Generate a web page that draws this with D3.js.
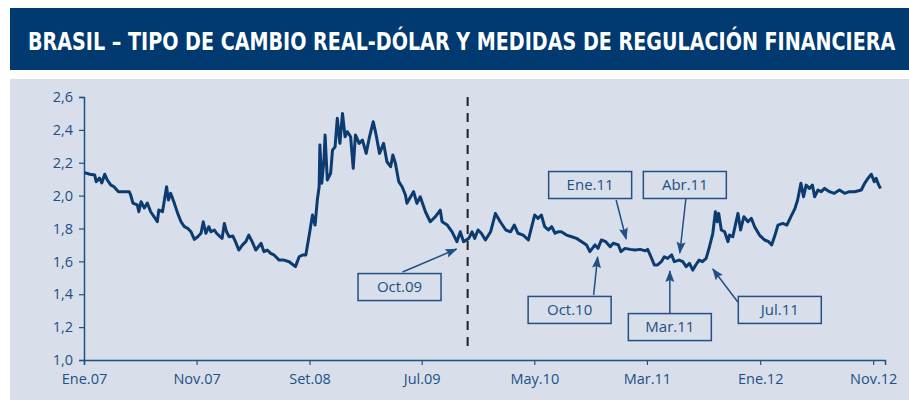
<!DOCTYPE html>
<html>
<head>
<meta charset="utf-8">
<script src="https://cdn.jsdelivr.net/npm/d3@7"></script>
<style>
  body { margin: 0; background: #fff; }
  svg { display: block; }
</style>
</head>
<body>
<div id="chart"></div>
<script>
// BRL per USD
const dates = [
  "2007-01-02","2007-01-17","2007-01-30","2007-02-03","2007-02-12","2007-02-18","2007-02-26","2007-03-05","2007-03-14","2007-03-23",
  "2007-04-04","2007-04-19","2007-05-03","2007-05-07","2007-05-13","2007-05-25","2007-05-29","2007-06-04","2007-06-13","2007-06-21",
  "2007-06-30","2007-07-09","2007-07-18","2007-07-22","2007-08-01","2007-08-12","2007-08-17","2007-08-23","2007-09-02","2007-09-11",
  "2007-09-20","2007-09-29","2007-10-08","2007-10-17","2007-10-26","2007-11-04","2007-11-13","2007-11-19","2007-11-26","2007-12-04",
  "2007-12-10","2007-12-19","2007-12-25","2008-01-02","2008-01-09","2008-01-15","2008-01-21","2008-01-28","2008-02-07","2008-02-14",
  "2008-02-23","2008-03-04","2008-03-13","2008-03-21","2008-03-30","2008-04-09","2008-04-23","2008-05-01","2008-05-10","2008-05-19",
  "2008-05-28","2008-06-11","2008-06-24","2008-07-08","2008-07-25","2008-08-04","2008-08-13","2008-08-22","2008-09-01","2008-09-09",
  "2008-09-16","2008-09-22","2008-09-27","2008-09-29","2008-10-04","2008-10-10","2008-10-13","2008-10-19","2008-10-28","2008-11-02",
  "2008-11-09","2008-11-15","2008-11-22","2008-11-29","2008-12-06","2008-12-12","2008-12-21","2008-12-28","2009-01-03","2009-01-13",
  "2009-01-22","2009-02-01","2009-02-10","2009-02-20","2009-02-27","2009-03-09","2009-03-20","2009-03-29","2009-04-08","2009-04-14",
  "2009-04-21","2009-04-30","2009-05-09","2009-05-18","2009-05-22","2009-06-01","2009-06-09","2009-06-18","2009-06-27","2009-07-11",
  "2009-07-24","2009-08-07","2009-08-20","2009-08-25","2009-09-08","2009-09-21","2009-10-04","2009-10-13","2009-10-22","2009-11-05",
  "2009-11-14","2009-11-21","2009-11-30","2009-12-09","2009-12-20","2010-01-03","2010-01-16","2010-01-29","2010-02-13","2010-02-26",
  "2010-03-08","2010-03-18","2010-04-01","2010-04-15","2010-04-24","2010-05-02","2010-05-11","2010-05-20","2010-05-29","2010-06-08",
  "2010-06-17","2010-06-26","2010-07-04","2010-07-13","2010-07-27","2010-08-10","2010-08-23","2010-09-06","2010-09-19","2010-09-28",
  "2010-10-12","2010-10-20","2010-10-29","2010-11-10","2010-11-22","2010-11-30","2010-12-14","2010-12-21","2011-01-01","2011-01-15",
  "2011-01-28","2011-02-11","2011-02-25","2011-03-03","2011-03-12","2011-03-21","2011-03-30","2011-04-09","2011-04-17","2011-04-26",
  "2011-05-07","2011-05-14","2011-05-27","2011-06-06","2011-06-15","2011-06-24","2011-07-03","2011-07-11","2011-07-20","2011-07-29",
  "2011-08-08","2011-08-17","2011-08-26","2011-09-02","2011-09-07","2011-09-11","2011-09-18","2011-09-27","2011-10-06","2011-10-10",
  "2011-10-19","2011-10-25","2011-11-02","2011-11-09","2011-11-18","2011-11-29","2011-12-08","2011-12-17","2011-12-30","2012-01-13",
  "2012-01-24","2012-02-01","2012-02-10","2012-02-18","2012-03-02","2012-03-13","2012-03-24","2012-04-04","2012-04-11","2012-04-20",
  "2012-04-27","2012-05-04","2012-05-13","2012-05-21","2012-05-27","2012-06-05","2012-06-14","2012-06-23","2012-07-06","2012-07-19",
  "2012-08-02","2012-08-16","2012-08-29","2012-09-12","2012-09-30","2012-10-09","2012-10-18","2012-10-27","2012-11-04","2012-11-09",
  "2012-11-16","2012-11-21"
];
const rates = [
  2.14,2.13,2.125,2.085,2.107,2.077,2.13,2.095,2.065,2.054,
  2.024,2.024,2.024,2.004,1.955,1.943,1.902,1.963,1.925,1.955,
  1.902,1.872,1.841,1.912,1.902,2.054,1.973,2.014,1.953,1.892,
  1.841,1.811,1.801,1.78,1.734,1.75,1.771,1.841,1.771,1.811,
  1.78,1.791,1.771,1.754,1.74,1.831,1.78,1.75,1.754,1.72,
  1.669,1.70,1.72,1.76,1.72,1.669,1.71,1.659,1.669,1.649,
  1.639,1.608,1.608,1.598,1.568,1.628,1.639,1.639,1.771,1.882,
  1.821,1.973,2.054,2.308,2.075,2.217,2.369,2.095,2.136,2.277,
  2.297,2.47,2.318,2.50,2.358,2.389,2.358,2.166,2.369,2.318,
  2.338,2.257,2.358,2.45,2.379,2.257,2.318,2.206,2.176,2.247,
  2.196,2.085,2.054,2.004,1.953,1.993,2.024,1.953,1.993,1.902,
  1.841,1.872,1.912,1.841,1.821,1.78,1.72,1.78,1.72,1.74,
  1.78,1.74,1.791,1.771,1.73,1.78,1.892,1.841,1.791,1.78,
  1.821,1.771,1.76,1.73,1.811,1.882,1.862,1.882,1.811,1.791,
  1.811,1.771,1.78,1.78,1.76,1.75,1.74,1.72,1.70,1.659,
  1.70,1.679,1.73,1.72,1.689,1.71,1.70,1.659,1.679,1.673,
  1.669,1.673,1.664,1.673,1.628,1.578,1.578,1.598,1.628,1.618,
  1.639,1.598,1.608,1.598,1.568,1.588,1.547,1.578,1.608,1.598,
  1.618,1.689,1.771,1.902,1.841,1.892,1.791,1.78,1.72,1.76,
  1.75,1.811,1.892,1.791,1.872,1.841,1.862,1.811,1.76,1.73,
  1.72,1.70,1.76,1.821,1.831,1.821,1.872,1.923,1.973,2.075,
  1.993,2.064,2.044,2.064,1.993,2.034,2.024,2.044,2.024,2.014,
  2.034,2.014,2.024,2.024,2.034,2.075,2.105,2.13,2.085,2.105,
  2.064,2.044
];
const xTickDates = ["2007-01-01","2007-11-01","2008-09-01","2009-07-01","2010-05-01","2011-03-01","2012-01-01","2012-11-01"];
const xTickLabels = ["Ene.07","Nov.07","Set.08","Jul.09","May.10","Mar.11","Ene.12","Nov.12"];
const yTicks = [1.0,1.2,1.4,1.6,1.8,2.0,2.2,2.4,2.6];
const measureDate = "2009-11-02";
const noteLabels = ["Oct.09","Oct.10","Ene.11","Abr.11","Mar.11","Jul.11"];
const noteDates = ["2009-10-03","2010-10-19","2011-01-04","2011-05-29","2011-05-02","2011-08-26"];
const noteRates = [1.675,1.627,1.736,1.651,1.541,1.554];
// box centre offsets from arrow tip, and arrow tail offsets
const noteBox = [[-57,38],[-28,53],[-36,-54],[5,-68],[0,56],[67,41]];
const noteTail = [[-54,23],[-4,38],[-10,-39],[6,-54],[0,42],[25,33]];

const W = 909, H = 410;
const blue = "#0b3b70", textBlue = "#214f86";
const parse = d3.timeParse("%Y-%m-%d");
const data = dates.map((d, i) => ({ date: parse(d), v: rates[i] }));

const svg = d3.select("#chart").append("svg").attr("width", W).attr("height", H);

svg.append("rect").attr("x", 10).attr("y", 8).attr("width", W - 10).attr("height", 62).attr("fill", "#003a70");
const title = svg.append("text")
    .attr("x", 0).attr("y", 0)
    .attr("fill", "#fff")
    .style("font-family", "'DejaVu Sans Condensed', 'Liberation Sans Narrow', sans-serif")
    .style("font-weight", "bold").style("font-size", "24px")
    .text("BRASIL \u2013 TIPO DE CAMBIO REAL-D\u00d3LAR Y MEDIDAS DE REGULACI\u00d3N FINANCIERA");
// squeeze horizontally to the width of the original title
const tw = title.node().getComputedTextLength();
title.attr("transform", `translate(28,50) scale(${868 / tw},1)`);

svg.append("rect").attr("x", 10).attr("y", 79).attr("width", W - 10).attr("height", 321).attr("fill", "#d9dfea");

const x = d3.scaleTime().domain([parse("2007-01-01"), parse("2012-12-03")]).range([84, 885]);
const y = d3.scaleLinear().domain([1.0, 2.6]).range([360, 97]);

const fmt = d => d3.format(".1f")(d).replace(".", ",");

const yAxis = svg.append("g").attr("transform", "translate(84,0)")
    .call(d3.axisLeft(y).tickValues(yTicks).tickFormat(fmt).tickSize(5).tickPadding(6));
const xAxis = svg.append("g").attr("transform", "translate(0,360)")
    .call(d3.axisBottom(x).tickValues(xTickDates.map(parse)).tickFormat((d, i) => xTickLabels[i]).tickSize(5).tickPadding(9));
[yAxis, xAxis].forEach(g => {
  g.select(".domain").attr("stroke", textBlue).attr("stroke-width", 1.5);
  g.selectAll(".tick line").attr("stroke", textBlue).attr("stroke-width", 1.2);
  g.selectAll("text").attr("fill", textBlue)
      .style("font-family", "'Open Sans', 'Noto Sans', sans-serif").style("font-size", "14.5px");
});

svg.append("line")
    .attr("x1", x(parse(measureDate))).attr("x2", x(parse(measureDate)))
    .attr("y1", 97).attr("y2", 348)
    .attr("stroke", "#231f20").attr("stroke-width", 2).attr("stroke-dasharray", "9,7");

svg.append("path").datum(data)
    .attr("fill", "none").attr("stroke", blue).attr("stroke-width", 3).attr("stroke-linejoin", "round")
    .attr("d", d3.line().x(d => x(d.date)).y(d => y(d.v)));

svg.append("defs").append("marker")
    .attr("id", "arr").attr("viewBox", "0 0 12 10").attr("refX", 11).attr("refY", 5)
    .attr("markerWidth", 13).attr("markerHeight", 10).attr("markerUnits", "userSpaceOnUse").attr("orient", "auto")
  .append("path").attr("d", "M0,0.5L12,5L0,9.5L2,5z").attr("fill", textBlue);

noteLabels.forEach((lab, i) => {
  const tx = x(parse(noteDates[i])), ty = y(noteRates[i]);
  const bx = tx + noteBox[i][0], by = ty + noteBox[i][1];
  const g = svg.append("g");
  g.append("line")
      .attr("x1", tx + noteTail[i][0]).attr("y1", ty + noteTail[i][1])
      .attr("x2", tx).attr("y2", ty)
      .attr("stroke", textBlue).attr("stroke-width", 1.5).attr("marker-end", "url(#arr)");
  g.append("rect").attr("x", bx - 41.5).attr("y", by - 13.5).attr("width", 83).attr("height", 27)
      .attr("fill", "#d9dfea").attr("stroke", textBlue).attr("stroke-width", 1.5);
  g.append("text").attr("x", bx).attr("y", by + 5).attr("text-anchor", "middle")
      .attr("fill", textBlue).style("font-family", "'Open Sans', 'Noto Sans', sans-serif").style("font-size", "15px")
      .text(lab);
});
</script>
</body>
</html>
